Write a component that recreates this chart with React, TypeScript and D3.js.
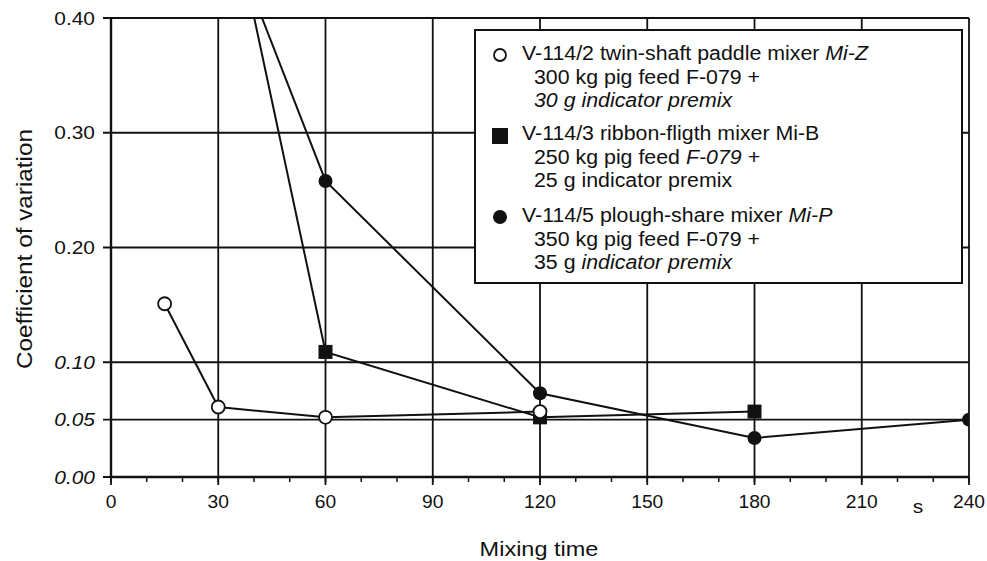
import React from 'react';
import * as d3 from 'd3';

// values
const timeZ = [15, 30, 60, 120];
const cvZ = [0.151, 0.061, 0.052, 0.057];
const timeB = [30, 60, 120, 180];
const cvB = [0.547, 0.109, 0.052, 0.057];
const timeP = [30, 60, 120, 180, 240];
const cvP = [0.498, 0.258, 0.073, 0.034, 0.05];

const xTicks = [0, 30, 60, 90, 120, 150, 180, 210, 240];
const xMinor = d3.range(0, 241, 10);
const yTicks = [0, 0.05, 0.1, 0.2, 0.3, 0.4];
const yItalic = [0, 0.05, 0.1];

const legendItems = [
  { marker: 'open', lines: [['V-114/2 twin-shaft paddle mixer ', 'Mi-Z'], ['300 kg pig feed F-079 +', ''], ['', '30 g indicator premix']] },
  { marker: 'square', lines: [['V-114/3 ribbon-fligth mixer Mi-B', ''], ['250 kg pig feed ', 'F-079 +'], ['25 g indicator premix', '']] },
  { marker: 'filled', lines: [['V-114/5 plough-share mixer ', 'Mi-P'], ['350 kg pig feed F-079 +', ''], ['35 g ', 'indicator premix']] },
];

const W = 987;
const H = 561;
const margin = { top: 18, right: 18, bottom: 84, left: 111 };
const font = '"Liberation Sans", Arial, sans-serif';

// the scan is a bit wider than Arial, so text gets a horizontal stretch
function T({ x, y, sx = 1.1, rot = 0, children, ...rest }: any) {
  return (
    <text transform={`translate(${x},${y}) rotate(${rot}) scale(${sx},1)`} fill="#111" {...rest}>
      {children}
    </text>
  );
}

export default function App() {
  const x = d3.scaleLinear().domain([0, 240]).range([margin.left, W - margin.right]);
  const y = d3.scaleLinear().domain([0, 0.4]).range([H - margin.bottom, margin.top]);

  const line = d3
    .line<number>()
    .x((d) => d[0])
    .y((d) => d[1]);

  const pts = (t: number[], v: number[]) => t.map((d, i) => [x(d), y(v[i])] as any);

  const x0 = x(0);
  const x1 = x(240);
  const y0 = y(0);
  const y1 = y(0.4);

  return (
    <svg width={W} height={H} style={{ position: 'absolute', left: 0, top: 0, background: '#fff' }} fontFamily={font}>
      <defs>
        <clipPath id="plot">
          <rect x={x0} y={y1} width={x1 - x0} height={y0 - y1} />
        </clipPath>
      </defs>

      {/* grid */}
      {yTicks.map((t) => (
        <line key={'gy' + t} x1={x0 - 8} x2={x1} y1={y(t)} y2={y(t)} stroke="#111" strokeWidth={1.8} />
      ))}
      {xTicks.map((t) => (
        <line key={'gx' + t} x1={x(t)} x2={x(t)} y1={y1} y2={y0 + 8} stroke="#111" strokeWidth={1.8} />
      ))}
      {xMinor.map((t) => (
        <line key={'mx' + t} x1={x(t)} x2={x(t)} y1={y0} y2={y0 + 5} stroke="#111" strokeWidth={1.5} />
      ))}
      <line x1={x0} x2={x0} y1={y1} y2={y0} stroke="#111" strokeWidth={2.4} />
      <line x1={x0} x2={x1} y1={y0} y2={y0} stroke="#111" strokeWidth={2.4} />

      {/* tick labels */}
      {yTicks.map((t) => (
        <T key={'ly' + t} x={95} y={y(t) + 6.5} fontSize={19} textAnchor="end" fontStyle={yItalic.includes(t) ? 'italic' : 'normal'}>
          {t.toFixed(2)}
        </T>
      ))}
      {xTicks.map((t) => (
        <T key={'lx' + t} x={x(t)} y={508} sx={1.04} fontSize={18.5} textAnchor="middle">
          {t}
        </T>
      ))}
      <T x={918} y={513} fontSize={19} textAnchor="middle">s</T>
      <T x={539} y={556} sx={1.12} fontSize={21} textAnchor="middle">Mixing time</T>
      <T x={32} y={249} rot={-90} sx={1.13} fontSize={21.5} textAnchor="middle">
        Coefficient of variation
      </T>

      {/* series lines */}
      <g clipPath="url(#plot)" fill="none" stroke="#111" strokeWidth={2}>
        <path d={line(pts(timeZ, cvZ)) || ''} />
        <path d={line(pts(timeB, cvB)) || ''} />
        <path d={line(pts(timeP, cvP)) || ''} />
      </g>

      {/* markers */}
      <g clipPath="url(#plot)">
        {timeB.map((t, i) => (
          <rect key={'b' + i} x={x(t) - 7} y={y(cvB[i]) - 7} width={14} height={14} fill="#111" />
        ))}
        {timeZ.map((t, i) => (
          <circle key={'z' + i} cx={x(t)} cy={y(cvZ[i])} r={6.5} fill="#fff" stroke="#111" strokeWidth={1.8} />
        ))}
        {timeP.map((t, i) => (
          <circle key={'p' + i} cx={x(t)} cy={y(cvP[i])} r={7} fill="#111" />
        ))}
      </g>

      {/* legend */}
      <rect x={475} y={30} width={487} height={253} fill="#fff" stroke="#111" strokeWidth={2} />
      {legendItems.map((item, gi) => {
        const top = [60, 140, 222][gi];
        const mx = 500;
        const my = top - 5;
        return (
          <g key={'lg' + gi}>
            {item.marker === 'open' && <circle cx={mx} cy={my} r={6} fill="#fff" stroke="#111" strokeWidth={1.8} />}
            {item.marker === 'square' && <rect x={mx - 8} y={my - 7} width={16} height={16} fill="#111" />}
            {item.marker === 'filled' && <circle cx={mx} cy={my} r={7} fill="#111" />}
            {item.lines.map((ln, li) => (
              <T key={li} x={li === 0 ? 522 : 534} y={top + li * 23.5} sx={1.095} fontSize={19.5}>
                {ln[0]}
                {ln[1] && <tspan fontStyle="italic">{ln[1]}</tspan>}
              </T>
            ))}
          </g>
        );
      })}
    </svg>
  );
}
